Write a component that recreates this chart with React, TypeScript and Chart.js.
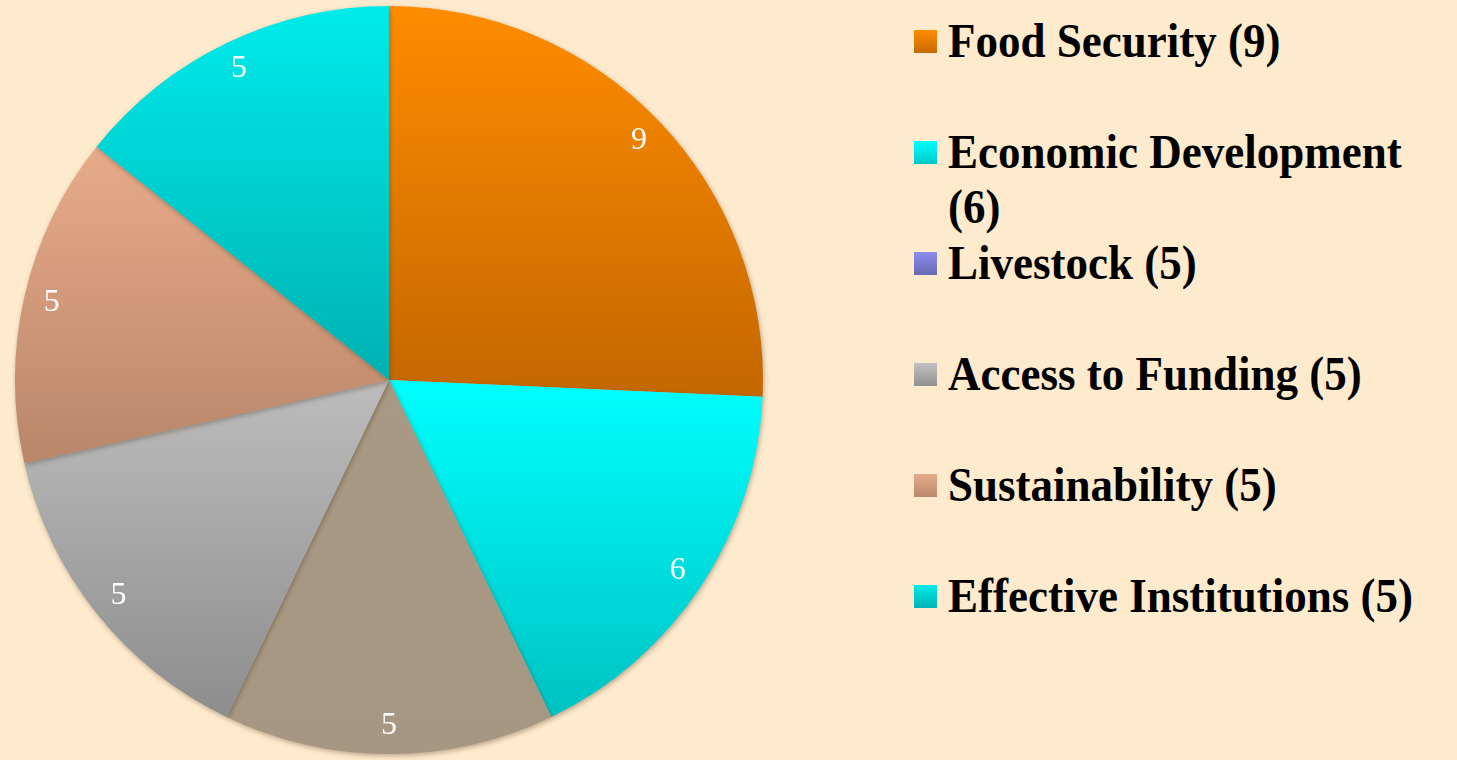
import React, { useEffect, useRef } from "react";
import { Chart, registerables } from "chart.js";

Chart.register(...registerables);

const categories = [
  "Food Security",
  "Economic Development",
  "Livestock",
  "Access to Funding",
  "Sustainability",
  "Effective Institutions",
];
const values = [9, 6, 5, 5, 5, 5];
const sliceTop = ["#ff8c00", "#00ffff", "#a89985", "#bdbdbd", "#e7ab89", "#00ebeb"];
const sliceBottom = ["#c36700", "#00c2c2", "#a69782", "#8d8d8d", "#b9866a", "#00b1b1"];
const legendTop = ["#ff8c00", "#00ffff", "#8c8cee", "#c2c2c2", "#e7ab89", "#00ebeb"];
const legendBottom = ["#c86a00", "#00c8c8", "#6a6ab2", "#909090", "#b9886c", "#00b3b3"];

const BG = "#feeacd";
const FONT = "'Liberation Serif', 'Times New Roman', serif";

function sliceYRange(area: any, idx: number) {
  const cx = (area.left + area.right) / 2;
  const cy = (area.top + area.bottom) / 2;
  const r = Math.min(area.right - area.left, area.bottom - area.top) / 2;
  const total = values.reduce((a, b) => a + b, 0);
  let start = 0;
  for (let i = 0; i < idx; i++) start += values[i];
  const a0 = (start / total) * Math.PI * 2;
  const a1 = ((start + values[idx]) / total) * Math.PI * 2;
  const ys = [cy, cy - r * Math.cos(a0), cy - r * Math.cos(a1)];
  if (a0 <= 0 + 1e-9) ys.push(cy - r);
  if (a0 <= Math.PI && a1 >= Math.PI) ys.push(cy + r);
  if (a1 >= Math.PI * 2 - 1e-9) ys.push(cy - r);
  return { y0: Math.min(...ys), y1: Math.max(...ys), cx, cy, r };
}

const labelPlugin = {
  id: "sliceLabels",
  afterDraw(chart: any) {
    const ctx = chart.ctx;
    const meta = chart.getDatasetMeta(0);
    ctx.save();
    ctx.shadowColor = "rgba(0,0,0,0)";
    ctx.shadowBlur = 0;
    ctx.fillStyle = "#ffffff";
    ctx.font = "normal 400 32px 'Liberation Serif'";
    ctx.textAlign = "center";
    ctx.textBaseline = "middle";
    meta.data.forEach((arc: any, i: number) => {
      const { x, y, startAngle, endAngle, outerRadius } = arc.getProps(
        ["x", "y", "startAngle", "endAngle", "outerRadius"],
        true
      );
      const mid = (startAngle + endAngle) / 2;
      const d = outerRadius * 0.925;
      ctx.fillText(String(values[i]), x + Math.cos(mid) * d, y + Math.sin(mid) * d);
    });
    ctx.restore();
  },
};

const shadowPlugin = {
  id: "sliceShadow",
  beforeDatasetsDraw(chart: any) {
    const ctx = chart.ctx;
    ctx.save();
    ctx.shadowColor = "rgba(60,40,20,0.35)";
    ctx.shadowBlur = 5;
    ctx.shadowOffsetX = 1;
    ctx.shadowOffsetY = 2;
  },
  afterDatasetsDraw(chart: any) {
    chart.ctx.restore();
  },
};

export default function App() {
  const ref = useRef<HTMLCanvasElement | null>(null);

  useEffect(() => {
    if (!ref.current) return;
    const chart = new Chart(ref.current, {
      type: "pie",
      data: {
        labels: categories,
        datasets: [
          {
            data: values,
            borderWidth: 0,
            hoverOffset: 0,
            backgroundColor: (c: any) => {
              const area = c.chart.chartArea;
              const i = c.dataIndex;
              if (!area || i === undefined) return sliceTop[i ?? 0];
              const { y0, y1 } = sliceYRange(area, i);
              const g = c.chart.ctx.createLinearGradient(0, y0, 0, y1);
              g.addColorStop(0, sliceTop[i]);
              g.addColorStop(1, sliceBottom[i]);
              return g;
            },
          },
        ],
      },
      options: {
        animation: false,
        responsive: true,
        maintainAspectRatio: false,
        layout: { padding: { left: 15, right: 17, top: 6, bottom: 6 } },
        plugins: {
          legend: { display: false },
          tooltip: { enabled: false },
        },
      },
      plugins: [shadowPlugin, labelPlugin],
    });
    return () => chart.destroy();
  }, []);

  return (
    <div style={{ position: "relative", width: 1457, height: 760, background: BG, overflow: "hidden" }}>
      <style>{`html,body{margin:0;padding:0;background:${BG};}`}</style>
      <div style={{ position: "absolute", left: 0, top: 0, width: 780, height: 760 }}>
        <canvas ref={ref} />
      </div>
      {categories.map((cat, i) => (
        <div
          key={cat}
          style={{ position: "absolute", left: 914, top: 13 + 111 * i, width: 540 }}
        >
          <div
            style={{
              position: "absolute",
              left: 0,
              top: 17,
              width: 23,
              height: 23,
              background: `linear-gradient(${legendTop[i]}, ${legendBottom[i]})`,
            }}
          />
          <div
            style={{
              position: "absolute",
              left: 34,
              top: 0,
              width: 505,
              fontFamily: FONT,
              fontWeight: "bold",
              fontSize: 45,
              lineHeight: "50px",
              color: "#000",
              transform: "scaleY(1.1)",
              transformOrigin: "0 0",
            }}
          >
            {`${cat} (${values[i]})`}
          </div>
        </div>
      ))}
    </div>
  );
}
